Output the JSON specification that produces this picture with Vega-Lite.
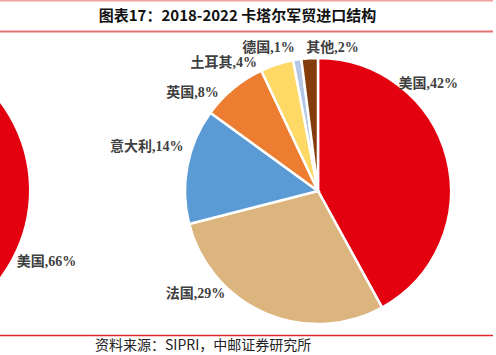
{
  "$schema": "https://vega.github.io/schema/vega-lite/v6.json",
  "width": 496,
  "height": 355,
  "autosize": "none",
  "padding": 0,
  "background": "white",
  "config": {"view": {"stroke": null}},
  "datasets": {
    "main": [
      {"name": "美国", "share": 42, "order": 1, "label": "美国,42%"},
      {"name": "法国", "share": 29, "order": 2, "label": "法国,29%"},
      {"name": "意大利", "share": 14, "order": 3, "label": "意大利,14%"},
      {"name": "英国", "share": 8, "order": 4, "label": "英国,8%"},
      {"name": "土耳其", "share": 4, "order": 5, "label": "土耳其,4%"},
      {"name": "德国", "share": 1, "order": 6, "label": "德国,1%"},
      {"name": "其他", "share": 2, "order": 7, "label": "其他,2%"}
    ],
    "left": [
      {"name": "美国", "share": 66, "order": 1, "label": "美国,66%"},
      {"name": "其他", "share": 34, "order": 2, "label": ""}
    ],
    "title": [{"t": "图表17：2018-2022 卡塔尔军贸进口结构"}],
    "footer": [{"t": "资料来源：SIPRI，中邮证券研究所"}]
  },
  "layer": [
    {
      "data": {"values": [{}]},
      "mark": {"type": "rule", "stroke": "#f2a0a0", "strokeWidth": 1.5},
      "encoding": {"x": {"value": 0}, "x2": {"value": 493}, "y": {"value": 0.8}}
    },
    {
      "data": {"values": [{}]},
      "mark": {"type": "rule", "stroke": "#e27272", "strokeWidth": 2},
      "encoding": {"x": {"value": 0}, "x2": {"value": 493}, "y": {"value": 31.5}}
    },
    {
      "data": {"values": [{}]},
      "mark": {"type": "rule", "stroke": "#e02828", "strokeWidth": 1.5},
      "encoding": {"x": {"value": 0}, "x2": {"value": 493}, "y": {"value": 335.5}}
    },
    {
      "data": {"name": "title"},
      "mark": {"type": "text", "font": "Noto Sans CJK SC", "fontWeight": "bold", "fontSize": 15, "color": "#111111", "align": "center", "baseline": "middle"},
      "encoding": {"text": {"field": "t"}, "x": {"value": 237.5}, "y": {"value": 16}}
    },
    {
      "data": {"name": "footer"},
      "mark": {"type": "text", "font": "Noto Sans CJK SC", "fontSize": 14, "color": "#222222", "align": "left", "baseline": "top"},
      "encoding": {"text": {"field": "t"}, "x": {"value": 95}, "y": {"value": 339}}
    },
    {
      "data": {"name": "left"},
      "encoding": {
        "theta": {"field": "share", "type": "quantitative", "stack": true},
        "order": {"field": "order", "type": "quantitative"},
        "detail": {"field": "name"},
        "x": {"value": -116},
        "y": {"value": 190}
      },
      "layer": [
        {
          "mark": {"type": "arc", "radius": 145},
          "encoding": {
            "color": {"field": "name", "type": "nominal", "legend": null,
              "scale": {"domain": ["美国", "法国", "意大利", "英国", "土耳其", "德国", "其他"],
                        "range": ["#e3000f", "#dbb47e", "#5b9bd5", "#ed7d31", "#ffd966", "#b4c7e7", "#843c0c"]}}
          }
        },
        {
          "mark": {"type": "text", "radius": 150, "dx": 31, "dy": 0, "font": "Liberation Serif, Noto Sans CJK SC", "fontWeight": "bold", "fontSize": 14, "color": "#404040", "align": "center", "baseline": "middle"},
          "encoding": {"text": {"condition": {"test": "datum.name === '美国'", "field": "label"}, "value": ""}}
        }
      ]
    },
    {
      "data": {"name": "main"},
      "encoding": {
        "theta": {"field": "share", "type": "quantitative", "stack": true},
        "order": {"field": "order", "type": "quantitative"},
        "detail": {"field": "name"},
        "x": {"value": 318},
        "y": {"value": 191}
      },
      "layer": [
        {
          "mark": {"type": "arc", "radius": 133, "stroke": "white", "strokeWidth": 2.5},
          "encoding": {
            "color": {"field": "name", "type": "nominal", "legend": null,
              "scale": {"domain": ["美国", "法国", "意大利", "英国", "土耳其", "德国", "其他"],
                        "range": ["#e3000f", "#dbb47e", "#5b9bd5", "#ed7d31", "#ffd966", "#b4c7e7", "#843c0c"]}}
          }
        },
        {
          "mark": {"type": "text", "radius": 150, "dx": -35, "dy": -70, "font": "Liberation Serif, Noto Sans CJK SC", "fontWeight": "bold", "fontSize": 14, "color": "#404040", "align": "center", "baseline": "middle"},
          "encoding": {"text": {"condition": {"test": "datum.name === '美国'", "field": "label"}, "value": ""}}
        },
        {
          "mark": {"type": "text", "radius": 150, "dx": -63, "dy": -35, "font": "Liberation Serif, Noto Sans CJK SC", "fontWeight": "bold", "fontSize": 14, "color": "#404040", "align": "center", "baseline": "middle"},
          "encoding": {"text": {"condition": {"test": "datum.name === '法国'", "field": "label"}, "value": ""}}
        },
        {
          "mark": {"type": "text", "radius": 150, "dx": -24, "dy": -16, "font": "Liberation Serif, Noto Sans CJK SC", "fontWeight": "bold", "fontSize": 14, "color": "#404040", "align": "center", "baseline": "middle"},
          "encoding": {"text": {"condition": {"test": "datum.name === '意大利'", "field": "label"}, "value": ""}}
        },
        {
          "mark": {"type": "text", "radius": 150, "dx": -30, "dy": 18, "font": "Liberation Serif, Noto Sans CJK SC", "fontWeight": "bold", "fontSize": 14, "color": "#404040", "align": "center", "baseline": "middle"},
          "encoding": {"text": {"condition": {"test": "datum.name === '英国'", "field": "label"}, "value": ""}}
        },
        {
          "mark": {"type": "text", "radius": 150, "dx": -48, "dy": 15, "font": "Liberation Serif, Noto Sans CJK SC", "fontWeight": "bold", "fontSize": 14, "color": "#404040", "align": "center", "baseline": "middle"},
          "encoding": {"text": {"condition": {"test": "datum.name === '土耳其'", "field": "label"}, "value": ""}}
        },
        {
          "mark": {"type": "text", "radius": 150, "dx": -26, "dy": 5, "font": "Liberation Serif, Noto Sans CJK SC", "fontWeight": "bold", "fontSize": 14, "color": "#404040", "align": "center", "baseline": "middle"},
          "encoding": {"text": {"condition": {"test": "datum.name === '德国'", "field": "label"}, "value": ""}}
        },
        {
          "mark": {"type": "text", "radius": 150, "dx": 24, "dy": 7, "font": "Liberation Serif, Noto Sans CJK SC", "fontWeight": "bold", "fontSize": 14, "color": "#404040", "align": "center", "baseline": "middle"},
          "encoding": {"text": {"condition": {"test": "datum.name === '其他'", "field": "label"}, "value": ""}}
        }
      ]
    }
  ]
}
